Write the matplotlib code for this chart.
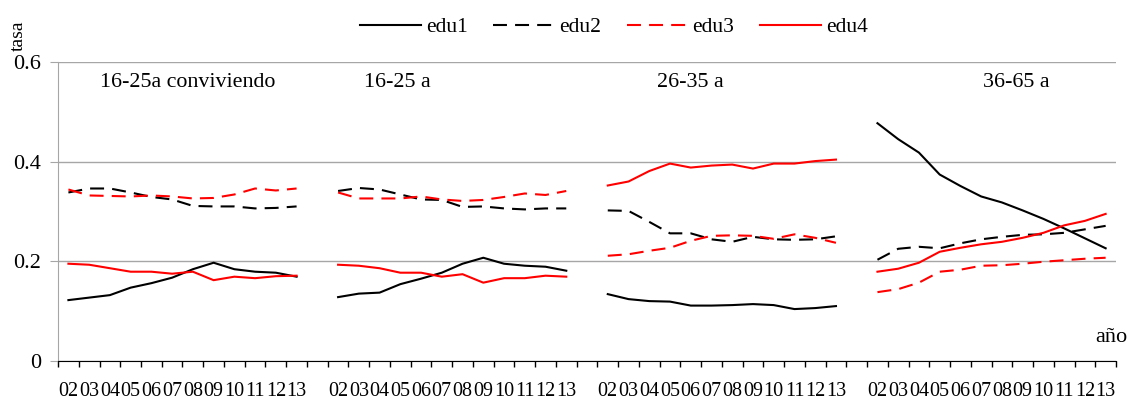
import numpy as np
import matplotlib.pyplot as plt
from matplotlib.lines import Line2D

plt.rcParams['font.family'] = ['Liberation Serif', 'DejaVu Serif']

# years shown under every panel
years = ['02', '03', '04', '05', '06', '07', '08', '09', '10', '11', '12', '13']
panels = ['16-25a conviviendo', '16-25 a', '26-35 a', '36-65 a']

# tasa by education level, one list per panel (02..13)
edu1 = [
    [0.122, 0.127, 0.132, 0.147, 0.156, 0.167, 0.184, 0.197, 0.184, 0.179, 0.177, 0.169],
    [0.128, 0.135, 0.137, 0.154, 0.165, 0.177, 0.195, 0.207, 0.195, 0.191, 0.189, 0.181],
    [0.134, 0.124, 0.120, 0.119, 0.111, 0.111, 0.112, 0.114, 0.112, 0.104, 0.106, 0.110],
    [0.477, 0.445, 0.418, 0.374, 0.351, 0.330, 0.318, 0.302, 0.285, 0.266, 0.246, 0.226],
]
edu2 = [
    [0.338, 0.346, 0.346, 0.338, 0.329, 0.324, 0.311, 0.310, 0.310, 0.306, 0.307, 0.310],
    [0.341, 0.347, 0.344, 0.334, 0.324, 0.323, 0.309, 0.310, 0.306, 0.304, 0.306, 0.306],
    [0.302, 0.301, 0.279, 0.256, 0.256, 0.244, 0.239, 0.249, 0.244, 0.243, 0.244, 0.250],
    [0.203, 0.225, 0.229, 0.226, 0.236, 0.244, 0.249, 0.253, 0.254, 0.257, 0.264, 0.271],
]
edu3 = [
    [0.344, 0.332, 0.331, 0.330, 0.332, 0.330, 0.326, 0.327, 0.334, 0.346, 0.342, 0.346],
    [0.338, 0.326, 0.326, 0.326, 0.330, 0.324, 0.321, 0.323, 0.329, 0.336, 0.333, 0.341],
    [0.211, 0.214, 0.221, 0.227, 0.241, 0.251, 0.252, 0.251, 0.245, 0.254, 0.247, 0.237],
    [0.138, 0.144, 0.157, 0.179, 0.183, 0.191, 0.192, 0.195, 0.199, 0.202, 0.205, 0.207],
]
edu4 = [
    [0.195, 0.193, 0.186, 0.179, 0.179, 0.175, 0.179, 0.162, 0.169, 0.166, 0.170, 0.171],
    [0.193, 0.191, 0.186, 0.177, 0.177, 0.169, 0.174, 0.157, 0.166, 0.166, 0.171, 0.169],
    [0.352, 0.360, 0.381, 0.396, 0.388, 0.392, 0.394, 0.386, 0.396, 0.396, 0.401, 0.404],
    [0.179, 0.185, 0.197, 0.219, 0.227, 0.234, 0.239, 0.247, 0.257, 0.272, 0.281, 0.295],
]

fig = plt.figure(figsize=(11.29, 3.99), dpi=100)
ax = fig.add_axes([0.0514, 0.0955, 0.9371, 0.7493])

step = len(years) + 1  # one empty slot between panels
ncat = step * len(panels) - 1

styles = [
    (edu1, 'edu1', 'black', '-'),
    (edu2, 'edu2', 'black', '--'),
    (edu3, 'edu3', 'red', '--'),
    (edu4, 'edu4', 'red', '-'),
]
lw = 1.5
dash = (6.7, 3.9)
handles = []
for data, name, col, ls in styles:
    for p in range(len(panels)):
        x = p * step + np.arange(len(years))
        line, = ax.plot(x, data[p], color=col, lw=lw, linestyle=ls)
        if ls == '--':
            line.set_dashes(dash)
    h = Line2D([], [], color=col, lw=lw, linestyle=ls)
    if ls == '--':
        h.set_dashes(dash)
    handles.append(h)

ax.set_xlim(-0.5, ncat - 0.5)
ax.set_ylim(0, 0.6)
ax.set_yticks([0, 0.2, 0.4, 0.6])
ax.set_yticklabels(['0', '0.2', '0.4', '0.6'])
ax.grid(axis='y', color='#a6a6a6', lw=1)
ax.set_axisbelow(True)

# category boundaries get the tick marks, centres get the labels
ax.set_xticks(np.arange(ncat + 1) - 0.5)
ax.set_xticklabels([])
labels = []
for p in range(len(panels)):
    labels += years
    if p < len(panels) - 1:
        labels.append('')
ax.set_xticks(np.arange(ncat), minor=True)
ax.set_xticklabels(labels, minor=True, fontsize=14.5)
ax.tick_params(axis='x', which='major', length=4, color='black', width=1)
ax.tick_params(axis='x', which='minor', length=0, pad=15)
ax.tick_params(axis='y', length=6, color='#a6a6a6', labelsize=16, pad=6)

for s in ['top', 'right']:
    ax.spines[s].set_visible(False)
ax.spines['left'].set_color('#a6a6a6')
ax.spines['bottom'].set_color('black')

title_x = [5.77, 15.85, 29.97, 45.7]
for p, t in enumerate(panels):
    ax.text(title_x[p], 0.558, t, ha='center', va='center', fontsize=15.8)

fig.text(1127 / 1129, 1 - 338 / 399, 'año', ha='right', va='center', fontsize=16)
fig.text(18 / 1129, 1 - 36 / 399, 'tasa', rotation=90, ha='center', va='center', fontsize=14)

fig.legend(handles, ['edu1', 'edu2', 'edu3', 'edu4'], ncol=4, frameon=False,
           loc='center', bbox_to_anchor=(614 / 1129, 1 - 27 / 399), fontsize=15.5,
           handlelength=2.8, handletextpad=0.25, columnspacing=1.2)

fig.savefig('out.png', dpi=100)
